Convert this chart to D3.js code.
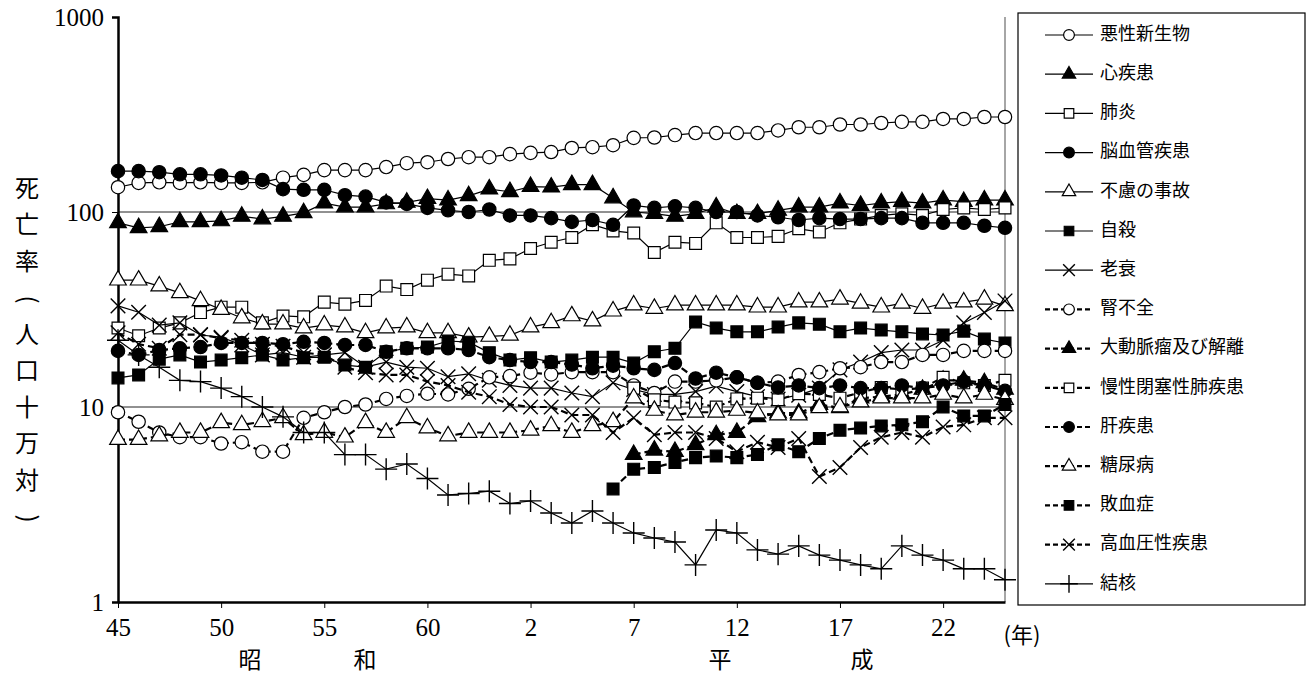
<!DOCTYPE html>
<html><head><meta charset="utf-8">
<script src="https://cdn.jsdelivr.net/npm/d3@7"></script>
<style>
body{margin:0;background:#fff;}
text{font-family:"Noto Sans CJK JP","Noto Sans",sans-serif;fill:#000;}
.tick text{font-family:"Liberation Serif","DejaVu Serif",serif;}
</style></head>
<body><svg id="chart" width="1315" height="688"></svg>
<script>
// 1970 (昭和45) .. 2013 (平成25)
const years = d3.range(1970, 2014);
const tickYears = [1970, 1975, 1980, 1985, 1990, 1995, 2000, 2005, 2010];
const tickLabels = ["45", "50", "55", "60", "2", "7", "12", "17", "22"];
const pad = n => Array(n).fill(null);

const cancer = [134,141,142,141,142,141,141,142,150,155, 164,164,164,170,178,180,187,191,191,198, 201,203,213,215,220,240,241,248,254,254, 254,254,262,272,272,281,281,286,290,290, 300,300,307,307];
const heart = [88,83,84,89,89,90,95,92,95,99, 111,106,106,110,112,117,115,121,131,127, 135,134,138,138,118,100,98,95,98,106, 98,98,102,106,106,111,108,111,113,111, 115,113,115,115];
const pneumonia = [25.4,23.2,25.4,27,30.5,32.5,32.5,27,29.3,29, 34.5,33.7,35.2,41.7,40,44.7,48,47,56.5,57.5, 65,70,74,86,80,78,62,70,69,88, 74,74,75,82,79,88,92,96,98,96, 103,105,103,105];
const stroke = [162,162,160,156,156,154,150,146,131,130, 130,122,120,112,110,105,102,100,103,96, 96,93,89,91,86,108,105,107,105,100, 100,96,94,91,93,92,92,93,93,88, 88,88,85,83];
const accident = [44.7,44.7,41.7,38.5,35,31.6,28.6,26.6,26.6,25.4, 26.3,25.7,24,25.4,25.7,24,24,22.8,23,23.3, 25.7,27,29.3,27.6,31,33.3,32,33.3,33.3,33.3, 33.3,32.5,32.5,34.5,34.5,35.7,34,32.5,34,32, 34,34.5,35.7,33];
const suicide = [14.1,14.6,17.6,18.5,17,17.4,17.9,18.5,17.4,17.9, 18,16.4,16,19.2,20,20.3,21.8,21.5,19,17.4, 17.9,17,17.4,18,18,16.8,19.2,20,27.3,25.4, 24.3,24.3,25.7,27,26.6,24.3,25.4,24.8,24.3,23.7, 23.4,24.5,22.3,21.3];
const senility = [33,30.6,26.3,27,23.4,22.8,20.8,18.5,19,18, 18.5,19,16,17,16,15.8,14.3,14.8,13.7,12.9, 12.5,12.5,11.8,11.3,13.3,12.3,11.6,11.6,12,12.8, 12,11.3,11,11.5,12.5,15.5,17,19,19.6,19.6, 22,27,30.5,35];
const renal = [9.4,8.4,7.4,7.0,7.0,6.5,6.6,5.9,5.9,8.8, 9.4,10,10.3,11,11.4,11.7,11.6,12.4,14.2,14.4, 15,14.7,15.1,15.1,15.1,12.9,11.8,13.5,13.5,13.7, 14.2,13.3,13.5,14.6,15.1,15.8,16,17,17,18.5, 18.5,19.4,19.4,19.4];
const aorta = pad(25).concat([5.7,6.0,5.9,6.4,7.2,7.4,8.9,9.3,9.3,10.3,9.9,11.1,11.3,11.6,12.3,13.7,13.7,13.3,12.3]);
const copd = pad(25).concat([12.5,10.9,10.6,10.5,10,11,11.1,10.9,11.7,11.6,11.1,11.9,12.6,12.3,12.5,14.2,13.3,12.9,13.7]);
const liver = [19.4,18.5,19.6,20,20.3,21.3,21.3,21.3,21,21.6, 21.3,20.8,20.8,19.2,20,20,20,19.6,18,17.4, 17,17,16.5,15.8,16.3,15.8,15.5,16.8,14,15, 14.2,13.3,12.6,12.9,12.5,12.9,12.5,12.5,12.9,12.5, 12.9,13.5,12.9,12.1];
const diabetes = [6.8,6.8,7.1,7.4,7.4,8.3,8.1,8.4,8.8,7.2, 7.4,7.0,8.3,7.4,8.8,7.8,7.1,7.4,7.4,7.4, 7.6,8,7.4,8,8.4,11.1,9.6,9.1,9.4,9.4, 9.6,9.3,9.1,9.1,9.9,10,10.6,11.1,11.1,11.1, 11.6,11.1,11.6,10.9];
const sepsis = pad(24).concat([3.8,4.8,4.9,5.2,5.5,5.6,5.5,5.7,6.4,5.9,6.9,7.6,7.8,8,8.1,8.4,10,9,9,10.3]);
const hypertension = [24,21,20,23.5,23.5,22.5,22,21,20.5,19, 18.5,16,15,14.6,14.6,13.5,12.9,11.9,11.3,10.3, 10,10,9.1,9.1,7.4,8.8,7.2,7.4,7.4,6.9, 5.9,6.6,6.2,6.9,4.4,4.9,6.2,7,7.4,7, 7.9,8.1,8.8,8.8];
const tb = [22,18.5,16,13.7,13.5,12.5,11.3,10,8.9,7.4, 7.4,5.7,5.7,4.8,5.1,4.3,3.54,3.6,3.7,3.2, 3.3,2.86,2.54,2.93,2.54,2.26,2.13,2.03,1.55,2.34, 2.26,1.85,1.76,1.94,1.74,1.64,1.55,1.48,1.94,1.74, 1.64,1.48,1.48,1.3];

const series = [
  {name:"悪性新生物", v:cancer, shape:"circle", fill:false, dash:false},
  {name:"心疾患", v:heart, shape:"triangle", fill:true, dash:false},
  {name:"肺炎", v:pneumonia, shape:"square", fill:false, dash:false},
  {name:"脳血管疾患", v:stroke, shape:"circle", fill:true, dash:false},
  {name:"不慮の事故", v:accident, shape:"triangle", fill:false, dash:false},
  {name:"自殺", v:suicide, shape:"square", fill:true, dash:false},
  {name:"老衰", v:senility, shape:"times", fill:false, dash:false},
  {name:"腎不全", v:renal, shape:"circle", fill:false, dash:true},
  {name:"大動脈瘤及び解離", v:aorta, shape:"triangle", fill:true, dash:true},
  {name:"慢性閉塞性肺疾患", v:copd, shape:"square", fill:false, dash:true},
  {name:"肝疾患", v:liver, shape:"circle", fill:true, dash:true},
  {name:"糖尿病", v:diabetes, shape:"triangle", fill:false, dash:true},
  {name:"敗血症", v:sepsis, shape:"square", fill:true, dash:true},
  {name:"高血圧性疾患", v:hypertension, shape:"times", fill:false, dash:true},
  {name:"結核", v:tb, shape:"plus", fill:false, dash:false}
];

const svg = d3.select("#chart");
const L = 118, R = 1005, T = 17, B = 602;
const x = d3.scaleLinear().domain([1970, 2013]).range([L, R]);
const y = d3.scaleLog().domain([1, 1000]).range([B, T]);

const symTypes = {circle:d3.symbolCircle, triangle:d3.symbolTriangle, square:d3.symbolSquare,
  times:d3.symbolTimes, plus:d3.symbolPlus};
const symSize = {circle:140, triangle:120, square:140, times:140, plus:160};
function drawSym(g, s, cx, cy, scale) {
  const sz = symSize[s.shape] * (scale || 1);
  const stroked = s.shape === "times" || s.shape === "plus";
  g.append("path")
    .attr("d", d3.symbol().type(symTypes[s.shape]).size(sz)())
    .attr("transform", `translate(${cx},${cy})`)
    .attr("fill", stroked ? "none" : (s.fill ? "#000" : "#fff"))
    .attr("stroke", "#000").attr("stroke-width", stroked ? 1.4 : 1.2);
}

// gridlines at 10 and 100
svg.append("g").selectAll("line").data([10, 100]).join("line")
  .attr("x1", L).attr("x2", R).attr("y1", d => y(d)).attr("y2", d => y(d))
  .attr("stroke", "#222").attr("stroke-width", 1);
svg.append("line").attr("x1", R).attr("x2", R).attr("y1", T).attr("y2", B)
  .attr("stroke", "#888").attr("stroke-width", 1.5);

// axes
const yAxis = d3.axisLeft(y).tickValues([1, 10, 100, 1000]).tickFormat(d3.format("d")).tickSize(6);
const gy = svg.append("g").attr("transform", `translate(${L},0)`).call(yAxis);
gy.select(".domain").attr("stroke-width", 2.5);
gy.selectAll("text").style("font-size", "25px").attr("x", -14);

const xAxis = d3.axisBottom(x).tickValues(tickYears).tickFormat((d, i) => tickLabels[i]).tickSize(6).tickSizeOuter(0);
const gx = svg.append("g").attr("transform", `translate(0,${B})`).call(xAxis);
gx.select(".domain").attr("stroke-width", 2.5);
gx.selectAll("text").style("font-size", "25px").attr("dy", "1em");
svg.append("text").attr("x", 1022).attr("y", 643).style("font-size", "22px").attr("text-anchor", "middle").text("(年)");

[["昭", 250], ["和", 365], ["平", 720], ["成", 862]].forEach(([t, px]) =>
  svg.append("text").attr("x", px).attr("y", 668).style("font-size", "23px").attr("text-anchor", "middle").text(t));

// y title, vertical
const ytitle = ["死", "亡", "率", "（", "人", "口", "十", "万", "対", "）"];
ytitle.forEach((c, i) => {
  const cy = 190 + i * 36.5;
  const paren = c === "（" || c === "）";
  svg.append("text").attr("x", 27).attr("y", cy).style("font-size", "24px")
    .attr("text-anchor", "middle").attr("dominant-baseline", "middle")
    .attr("transform", paren ? `rotate(90,27,${cy})` : null)
    .text(c === "（" ? "(" : c === "）" ? ")" : c);
});

// lines and markers
const line = d3.line().defined(d => d[1] != null).x(d => x(d[0])).y(d => y(d[1]));
series.forEach(s => {
  const pts = years.map((yr, i) => [yr, s.v[i]]);
  const g = svg.append("g");
  g.append("path").datum(pts).attr("d", line).attr("fill", "none").attr("stroke", "#000")
    .attr("stroke-width", s.dash ? 2.2 : 1.2).attr("stroke-dasharray", s.dash ? "7,4" : null);
  pts.filter(p => p[1] != null).forEach(p => drawSym(g, s, x(p[0]), y(p[1])));
});

// legend
const lg = svg.append("g");
lg.append("rect").attr("x", 1018).attr("y", 13).attr("width", 287).attr("height", 592)
  .attr("fill", "#fff").attr("stroke", "#000").attr("stroke-width", 1.2);
series.forEach((s, i) => {
  const cy = 35 + i * 39.2;
  lg.append("line").attr("x1", 1045).attr("x2", 1093).attr("y1", cy).attr("y2", cy)
    .attr("stroke", "#000").attr("stroke-width", s.dash ? 2.2 : 1.2).attr("stroke-dasharray", s.dash ? "5,3" : null);
  drawSym(lg, s, 1069, cy, 0.65);
  lg.append("text").attr("x", 1100).attr("y", cy).attr("dominant-baseline", "middle")
    .style("font-size", "18px").text(s.name);
});
</script></body></html>
